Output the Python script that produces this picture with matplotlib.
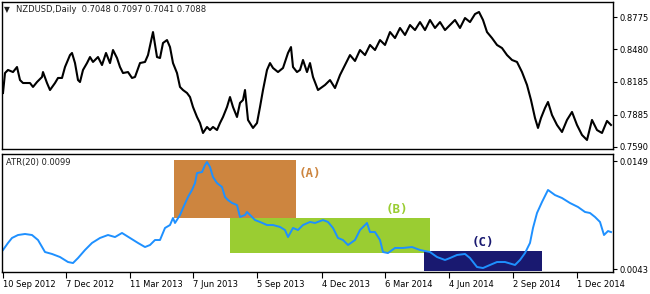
import matplotlib
matplotlib.use("Agg")
import matplotlib.pyplot as plt
from matplotlib.patches import Rectangle

# ---- data (bar index, value) ----
price_idx = [0, 2, 5, 10, 14, 17, 20, 27, 30, 34, 39, 40, 44, 47, 52, 55, 59, 62, 67, 69,
             72, 75, 77, 80, 84, 87, 90, 95, 99, 103, 107, 110, 114, 117, 120, 125, 129, 132,
             137, 142, 145, 150, 154, 157, 160, 164, 167, 170, 174, 177, 180, 184, 187, 190,
             194, 197, 200, 204, 207, 210, 214, 217, 220, 224, 227, 230, 234, 237, 240, 242,
             245, 250, 254, 257, 260, 264, 267, 270, 275, 280, 285, 288, 290, 294, 297, 300,
             304, 307, 310, 315, 322, 327, 332, 337, 342, 347, 352, 357, 362, 367, 372, 377,
             382, 387, 392, 397, 402, 407, 412, 417, 422, 427, 432, 437, 442, 447, 452, 457,
             462, 467, 472, 476, 480, 484, 489, 494, 499, 504, 509, 514, 519, 524, 528, 532,
             535, 538, 542, 545, 549, 554, 559, 564, 569, 574, 579, 584, 589, 594, 599, 604, 608]
price_close = [0.8082, 0.8264, 0.8292, 0.8273, 0.8319, 0.8200, 0.8173, 0.8173, 0.8137, 0.8182,
               0.8228, 0.8273, 0.8173, 0.8109, 0.8173, 0.8219, 0.8219, 0.8319, 0.8428, 0.8447,
               0.8355, 0.8200, 0.8182, 0.8292, 0.8355, 0.8410, 0.8365, 0.8410, 0.8337, 0.8447,
               0.8355, 0.8474, 0.8401, 0.8319, 0.8264, 0.8273, 0.8219, 0.8228, 0.8355, 0.8365,
               0.8428, 0.8638, 0.8410, 0.8401, 0.8538, 0.8565, 0.8501, 0.8355, 0.8264, 0.8137,
               0.8109, 0.8082, 0.8045, 0.7954, 0.7863, 0.7808, 0.7717, 0.7772, 0.7744, 0.7772,
               0.7744, 0.7808, 0.7863, 0.7954, 0.8045, 0.7954, 0.7863, 0.7991, 0.8018, 0.8109,
               0.7836, 0.7763, 0.7808, 0.7954, 0.8109, 0.8292, 0.8355, 0.8310, 0.8273, 0.8310,
               0.8447, 0.8501, 0.8319, 0.8273, 0.8292, 0.8383, 0.8273, 0.8355, 0.8228, 0.8109,
               0.8155, 0.8200, 0.8127, 0.8246, 0.8337, 0.8428, 0.8374, 0.8474, 0.8428, 0.8520,
               0.8474, 0.8565, 0.8520, 0.8638, 0.8583, 0.8675, 0.8611, 0.8702, 0.8656, 0.8729,
               0.8656, 0.8748, 0.8675, 0.8729, 0.8656, 0.8702, 0.8748, 0.8675, 0.8766, 0.8729,
               0.8802, 0.8821, 0.8748, 0.8638, 0.8583, 0.8520, 0.8492, 0.8428, 0.8383, 0.8365,
               0.8273, 0.8155, 0.8018, 0.7854, 0.7763, 0.7854, 0.7945, 0.8000, 0.7881, 0.7790,
               0.7726, 0.7836, 0.7909, 0.7790, 0.7699, 0.7653, 0.7836, 0.7744, 0.7717, 0.7827,
               0.7790]

atr_idx = [0, 5, 9, 15, 22, 29, 35, 42, 49, 57, 65, 70, 75, 82, 89, 97, 105, 112, 119, 127,
           135, 142, 147, 152, 157, 162, 167, 170, 172, 177, 180, 185, 189, 192, 194, 199, 202,
           204, 207, 210, 214, 219, 222, 225, 229, 234, 237, 242, 244, 249, 252, 257, 264, 270,
           277, 282, 285, 290, 295, 300, 307, 312, 320, 325, 330, 335, 340, 345, 352, 357, 362,
           364, 367, 372, 377, 380, 385, 392, 400, 409, 417, 427, 434, 442, 447, 454, 462, 467,
           474, 480, 487, 494, 502, 512, 517, 522, 527, 530, 534, 539, 545, 552, 559, 567, 575,
           582, 587, 592, 597, 601, 605, 608]
atr_vals = [0.00617, 0.00686, 0.00735, 0.00764, 0.00774, 0.00764, 0.00715, 0.00597, 0.00578,
            0.00548, 0.00499, 0.00489, 0.00538, 0.00617, 0.00686, 0.00735, 0.00764, 0.00744,
            0.00784, 0.00735, 0.00686, 0.00646, 0.00666, 0.00715, 0.00715, 0.00833, 0.00862,
            0.00931, 0.00882, 0.00960, 0.01029, 0.01137, 0.01206, 0.01274, 0.01372, 0.01382,
            0.01451, 0.01480, 0.01431, 0.01333, 0.01274, 0.01235, 0.01137, 0.01107, 0.01078,
            0.01058, 0.00941, 0.00960, 0.00990, 0.00941, 0.00911, 0.00892, 0.00862, 0.00862,
            0.00843, 0.00813, 0.00744, 0.00833, 0.00813, 0.00862, 0.00892, 0.00882, 0.00911,
            0.00892, 0.00833, 0.00735, 0.00715, 0.00666, 0.00715, 0.00813, 0.00862, 0.00882,
            0.00793, 0.00793, 0.00715, 0.00597, 0.00587, 0.00637, 0.00637, 0.00646, 0.00617,
            0.00597, 0.00548, 0.00519, 0.00538, 0.00568, 0.00578, 0.00538, 0.00450, 0.00440,
            0.00470, 0.00499, 0.00499, 0.00470, 0.00519, 0.00587, 0.00686, 0.00833, 0.00980,
            0.01088, 0.01206, 0.01156, 0.01127, 0.01078, 0.01039, 0.00990, 0.00980, 0.00941,
            0.00892, 0.00764, 0.00803, 0.00793]

date_tick_idx = [0, 63, 127, 190, 254, 319, 382, 446, 510, 574]
date_tick_labels = ["10 Sep 2012", "7 Dec 2012", "11 Mar 2013", "7 Jun 2013", "5 Sep 2013",
                    "4 Dec 2013", "6 Mar 2014", "4 Jun 2014", "2 Sep 2014", "1 Dec 2014"]
price_ticks = [0.8775, 0.8480, 0.8185, 0.7885, 0.7590]
atr_ticks = [0.0149, 0.0043]

zone_names = ["(A)", "(B)", "(C)"]
zone_x0 = [171, 227, 421]
zone_x1 = [293, 427, 539]
zone_y0 = [0.00931, 0.00587, 0.00411]
zone_y1 = [0.01500, 0.00931, 0.00607]
zone_label_x = [307, 394, 480]
zone_label_y = [0.01372, 0.01010, 0.00695]
zone_colors = ["#CD853F", "#9ACD32", "#191970"]

header = "NZDUSD,Daily  0.7048 0.7097 0.7041 0.7088"
atr_title = "ATR(20) 0.0099"

# ---- figure ----
W, H = 650, 294
fig = plt.figure(figsize=(W / 100, H / 100), dpi=100)
fig.patch.set_facecolor("white")

def frac(x0, y0, x1, y1):
    return [x0 / W, 1 - y1 / H, (x1 - x0) / W, (y1 - y0) / H]

ax1 = fig.add_axes(frac(2, 2, 613, 149))
ax2 = fig.add_axes(frac(2, 154, 613, 272))
fs = 6.0

for ax in (ax1, ax2):
    ax.set_xlim(-1, 610)
    for s in ax.spines.values():
        s.set_color("black")
        s.set_linewidth(1.0)
    ax.yaxis.tick_right()
    ax.tick_params(axis="y", direction="out", length=3, width=0.8, pad=2,
                   labelsize=fs, colors="black", left=False)
    ax.set_facecolor("white")

ax1.plot(price_idx, price_close, color="black", lw=1.5)
ax1.set_ylim(0.7571, 0.8912)
ax1.set_yticks(price_ticks)
ax1.set_yticklabels([f"{v:.4f}" for v in price_ticks])
ax1.set_xticks([])

for name, x0, x1, y0, y1, lx, ly, c in zip(zone_names, zone_x0, zone_x1, zone_y0, zone_y1,
                                          zone_label_x, zone_label_y, zone_colors):
    ax2.add_patch(Rectangle((x0, y0), x1 - x0, y1 - y0, facecolor=c, edgecolor="none", zorder=1))
    ax2.text(lx, ly, name, color=c, fontsize=9, family="DejaVu Sans Mono",
             fontweight="bold", ha="center", va="center", zorder=3)

ax2.plot(atr_idx, atr_vals, color="#1E90FF", lw=1.4, zorder=2)
ax2.set_ylim(0.00401, 0.01559)
ax2.set_yticks(atr_ticks)
ax2.set_yticklabels([f"{v:.4f}" for v in atr_ticks])
ax2.set_xticks(date_tick_idx)
ax2.set_xticklabels(date_tick_labels, ha="left")
ax2.tick_params(axis="x", direction="out", length=4, width=0.8, pad=1.5, labelsize=fs,
                colors="black")

fig.text(4 / W, 1 - 10 / H, "\u25BC", fontsize=5.5, color="#202020", va="center", ha="left")
fig.text(16 / W, 1 - 10 / H, header, fontsize=fs, color="#202020", va="center", ha="left")
fig.text(6 / W, 1 - 163 / H, atr_title, fontsize=fs, color="#202020", va="center", ha="left")

fig.savefig("out.png", dpi=100, facecolor="white")
